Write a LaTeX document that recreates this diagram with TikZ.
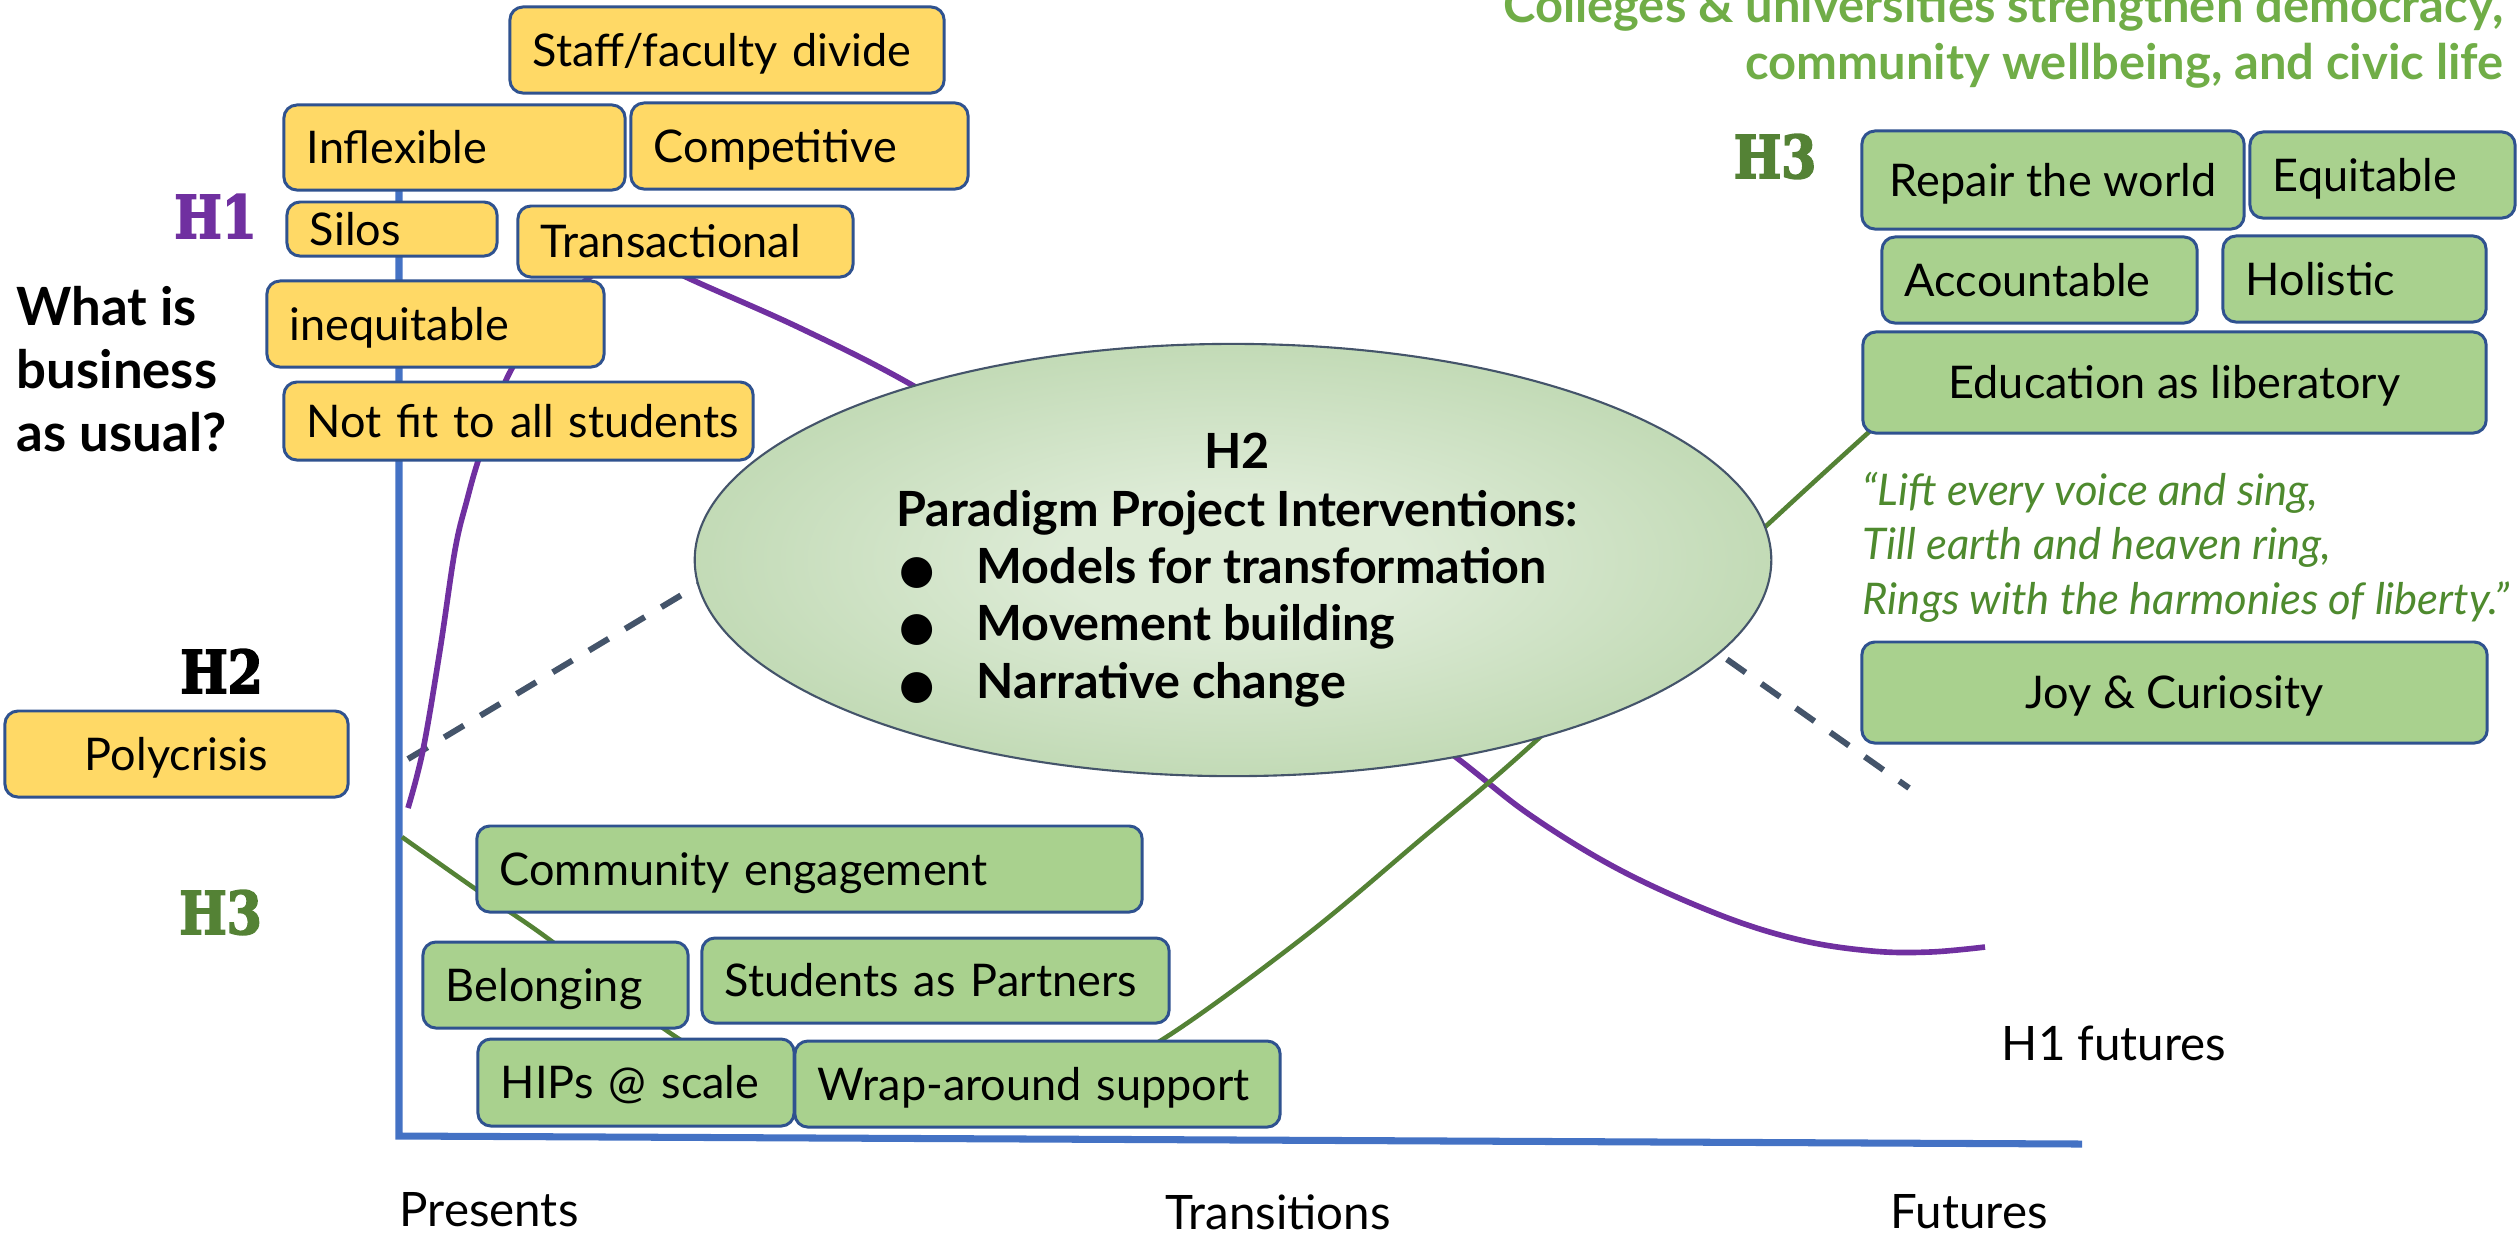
\documentclass[tikz,border=0pt]{standalone}
\usepackage{fontspec}
\setmainfont{Lato}
\newfontfamily\slabfont[FakeStretch=0.85, BoldFeatures={FakeBold=3}]{DejaVu Serif}
\newfontfamily\dotfont{DejaVu Sans}
\usetikzlibrary{shapes.geometric}

\definecolor{boxyellow}{HTML}{FFD966}
\definecolor{boxgreen}{HTML}{A9D18E}
\definecolor{boxline}{HTML}{2F528F}
\definecolor{axisblue}{HTML}{4472C4}
\definecolor{hpurple}{HTML}{7030A0}
\definecolor{hgreen}{HTML}{548235}
\definecolor{titlegreen}{HTML}{70AD47}
\definecolor{quotegreen}{HTML}{4E8A2E}
\definecolor{dashgrey}{HTML}{44546A}
\definecolor{hzin}{HTML}{DDEBD6}
\definecolor{hzout}{HTML}{9BC287}

\pgfdeclareradialshading{hzshade}{\pgfpoint{0bp}{0bp}}{color(0bp)=(hzin); color(8bp)=(hzin); color(50bp)=(hzout)}

\newcommand{\hdot}{\makebox[7.7mm][l]{\dotfont\fontsize{11.5}{14}\selectfont ●}}

\tikzset{
    boxbase/.style={draw=boxline, line width=0.85pt, rounded corners=1.3mm,
        inner xsep=2.3mm, inner ysep=0pt, text height=9.2pt, text depth=0pt,
        font=\fontsize{12.8}{15.4}\selectfont},
    ybox/.style={boxbase, fill=boxyellow, align=left,
        execute at begin node=\hbox\bgroup, execute at end node=\egroup},
    gbox/.style={boxbase, fill=boxgreen, align=left,
        execute at begin node=\hbox\bgroup, execute at end node=\egroup},
    ymid/.style={boxbase, fill=boxyellow},
    gmid/.style={boxbase, fill=boxgreen},
    hlabel/.style={font=\slabfont\bfseries\fontsize{16.8}{20}\selectfont, inner sep=0pt, anchor=base},
    h2item/.style={font=\bfseries\fontsize{13.8}{16}\selectfont, inner sep=0pt, anchor=base west},
    axislabel/.style={font=\fontsize{13.5}{16}\selectfont, inner sep=0pt, anchor=base west},
    axisline/.style={axisblue, line width=2pt},
    h1curve/.style={hpurple, line width=1.6pt},
    h3curve/.style={hgreen, line width=1.3pt},
    h2dash/.style={dashgrey, line width=1.7pt, dash pattern=on 6.5pt off 5.5pt},
}

\begin{document}
\begin{tikzpicture}[x=0.01cm, y=-0.01cm]
    \useasboundingbox (0,0) rectangle (2519,1235);

    % axes
    \draw[axisline] (399,150) -- (399,1136) -- (2082,1144);

    % the three horizons
    \draw[h2dash] (408,759) -- (1000,404) -- (1500,499) -- (1909,788);
    \draw[h1curve] plot[smooth, tension=0.6] coordinates {(408,808) (423,750) (440,650) (455,550)
        (467,500) (480,455) (507,378) (545,320) (590,277) (635,250) (686,277) (800,328) (912,385)
        (1050,470) (1200,570) (1350,680) (1453,755) (1530,815) (1620,870) (1720,915) (1800,940)
        (1872,951) (1930,952) (1985,947)};
    \draw[h3curve] plot[smooth, tension=0.6] coordinates {(402,837) (477,890) (550,940) (663,1028)
        (720,1060) (800,1090) (900,1100) (1000,1092) (1090,1070) (1160,1041) (1300,940) (1420,840)
        (1538,739) (1765,527) (1880,422)};

    \node[ellipse, draw=dashgrey, line width=0.6pt, shade, shading=hzshade, minimum width=10.76cm,
        minimum height=4.32cm, inner sep=0pt] (h2oval) at (1233,560) {};

    % business as usual
    \node[ybox, text width=3.88cm, minimum height=0.86cm] (staff) at (727,50) {Staff/faculty divide};
    \node[ybox, text width=2.95cm, minimum height=0.85cm] (inflex) at (454.5,147.5) {Inflexible};
    \node[ybox, text width=2.91cm, minimum height=0.86cm] (compet) at (799.5,146) {Competitive};
    \node[ybox, text width=1.64cm, minimum height=0.54cm] (silos) at (392,229) {Silos};
    \node[ybox, text width=2.89cm, minimum height=0.71cm] (transact) at (685.5,241.5) {Transactional};
    \node[ybox, text width=2.91cm, minimum height=0.86cm] (inequit) at (435.5,324) {inequitable};
    \node[ybox, text width=4.23cm, minimum height=0.78cm] (notfit) at (518.5,421) {Not fit to all students};
    \node[ymid, minimum width=3.43cm, minimum height=0.86cm] (poly) at (176.5,754) {Polycrisis};

    % seeds of the future
    \node[gmid, minimum width=3.82cm, minimum height=0.98cm] (repair) at (2053,180) {Repair the world};
    \node[gbox, text width=2.19cm, minimum height=0.86cm] (equit) at (2382.5,175) {Equitable};
    \node[gbox, text width=2.69cm, minimum height=0.86cm] (account) at (2039.5,280) {Accountable};
    \node[gbox, text width=2.17cm, minimum height=0.86cm] (holist) at (2354.5,279) {Holistic};
    \node[gmid, minimum width=6.23cm, minimum height=1.01cm] (edu) at (2174.5,382.5) {Education as liberatory};
    \node[gmid, minimum width=6.25cm, minimum height=1.01cm] (joy) at (2174.5,692.5) {Joy \& Curiosity};
    \node[gbox, text width=6.19cm, minimum height=0.86cm] (commun) at (809.5,869) {Community engagement};
    \node[gbox, text width=2.19cm, minimum height=0.86cm] (belong) at (555.5,985) {Belonging};
    \node[gbox, text width=4.21cm, minimum height=0.85cm] (students) at (935.5,980.5) {Students as Partners};
    \node[gbox, text width=2.70cm, minimum height=0.87cm] (hips) at (636,1082.5) {HIPs @ scale};
    \node[gbox, text width=4.39cm, minimum height=0.86cm] (wrap) at (1037.5,1084) {Wrap-around support};

    % labels
    \node[hlabel, hpurple] (hone) at (215.5,238) {H1};
    \node[hlabel] (htwo) at (221.5,693) {H2};
    \node[hlabel, hgreen] (hthreeleft) at (220.5,934) {H3};
    \node[hlabel, hgreen] (hthreeright) at (1775,178) {H3};

    \node[anchor=north west, inner sep=0pt, align=left, font=\bfseries\fontsize{15}{17.9}\selectfont] (question) at (16,286) {What is\\business\\as usual?};
    \node[anchor=north east, inner sep=0pt, align=right, text=titlegreen, font=\bfseries\fontsize{13.9}{16.2}\selectfont] (goal) at (2504,-15) {Colleges \& universities strengthen democracy,\\community wellbeing, and civic life};
    \node[anchor=north west, inner sep=0pt, align=left, text=quotegreen, font=\itshape\fontsize{12.4}{15.5}\selectfont] (song) at (1862,471) {“Lift every voice and sing,\\Till earth and heaven ring,\\Rings with the harmonies of liberty.”};

    % inside the H2 oval
    \node[anchor=base, inner sep=0pt, font=\bfseries\fontsize{13.8}{16}\selectfont] (htwohead) at (1237,468) {H2};
    \node[anchor=base, inner sep=0pt, font=\bfseries\fontsize{13.8}{16}\selectfont] (htwosub) at (1237,526) {Paradigm Project Interventions:};
    \node[h2item] (itema) at (899,583) {\hdot Models for transformation};
    \node[h2item] (itemb) at (899,640) {\hdot Movement building};
    \node[h2item] (itemc) at (899,698) {\hdot Narrative change};

    \node[axislabel] (presents) at (399,1226) {Presents};
    \node[axislabel] (transitions) at (1165,1229) {Transitions};
    \node[axislabel] (futures) at (1890,1228) {Futures};
    \node[axislabel] (hofutures) at (2001,1060) {H1 futures};
\end{tikzpicture}
\end{document}
